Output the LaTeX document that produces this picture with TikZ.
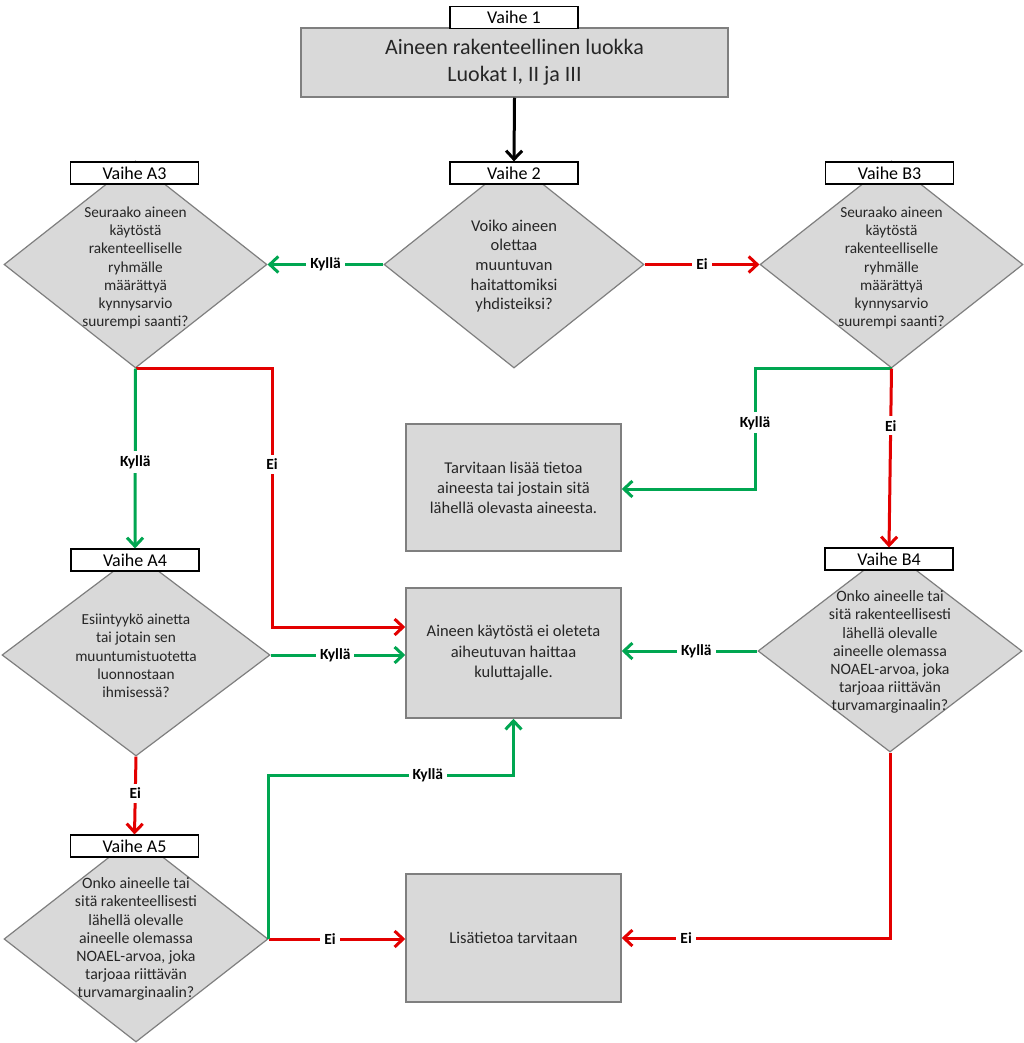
\documentclass[tikz,border=0pt]{standalone}
\usepackage{fontspec}
\setmainfont{Carlito}
\usetikzlibrary{arrows.meta,shapes.geometric}
\definecolor{grn}{HTML}{00A651}
\definecolor{rd}{HTML}{E30000}
\definecolor{boxgray}{HTML}{D9D9D9}
\definecolor{edgegray}{HTML}{7F7F7F}
\begin{document}
\begin{tikzpicture}[x=1pt,y=-1pt,
 stepbox/.style={draw=edgegray, line width=1.5pt, fill=boxgray, minimum width=215pt, minimum height=128pt, inner sep=0pt, align=center, text=black!85, font=\fontsize{16.5}{20}\selectfont},
 tag/.style={draw=black, line width=1.2pt, fill=white, minimum width=128pt, minimum height=22pt, inner sep=0pt, font=\fontsize{18}{18}\selectfont},
 dia/.style={diamond, draw=edgegray, line width=1.2pt, fill=boxgray, inner sep=0pt},
 diatext/.style={align=center, text=black!85, font=\fontsize{15.3}{18.3}\selectfont, inner sep=0pt},
 conn/.style={line width=3pt, -{Straight Barb[length=8.5pt,width=16pt]}},
 g/.style={conn, draw=grn},
 r/.style={conn, draw=rd},
 lbl/.style={fill=white, text=black, font=\bfseries\fontsize{15.5}{16}\selectfont, inner sep=4pt}
]
\useasboundingbox[fill=white] (0,0) rectangle (1024,1043);

% main box
\node[stepbox, minimum width=427pt, minimum height=69pt, font=\fontsize{22}{27}\selectfont] (main) at (514.5,62.5) {Aineen rakenteellinen luokka\\Luokat I, II ja III};
\node[tag] (t1) at (514,17.5) {Vaihe 1};

% diamonds
\node[dia, minimum width=260pt, minimum height=207pt] (v2) at (514,264.5) {};
\node[dia, minimum width=263pt, minimum height=207pt] (a3) at (135.5,264.5) {};
\node[dia, minimum width=263pt, minimum height=207pt] (b3) at (891.5,264.5) {};
\node[dia, minimum width=268pt, minimum height=202pt] (a4) at (136,655) {};
\node[dia, minimum width=264pt, minimum height=202pt] (b4) at (890,651) {};
\node[dia, minimum width=264pt, minimum height=206pt] (a5) at (136,939) {};

\node[diatext, font=\fontsize{16.5}{19.7}\selectfont] (v2t) at (514,266) {Voiko aineen\\olettaa\\muuntuvan\\haitattomiksi\\yhdisteiksi?};
\node[diatext] (a3t) at (135.5,268) {Seuraako aineen\\käytöstä\\rakenteelliselle\\ryhmälle\\määrättyä\\kynnysarvio\\suurempi saanti?};
\node[diatext] (b3t) at (891.5,268) {Seuraako aineen\\käytöstä\\rakenteelliselle\\ryhmälle\\määrättyä\\kynnysarvio\\suurempi saanti?};
\node[diatext] (a4t) at (136,656) {Esiintyykö ainetta\\tai jotain sen\\muuntumistuotetta\\luonnostaan\\ihmisessä?};
\node[diatext, font=\fontsize{15.8}{18.1}\selectfont] (b4t) at (890,652) {Onko aineelle tai\\sitä rakenteellisesti\\lähellä olevalle\\aineelle olemassa\\NOAEL-arvoa, joka\\tarjoaa riittävän\\turvamarginaalin?};
\node[diatext, font=\fontsize{15.8}{18.1}\selectfont] (a5t) at (136,939) {Onko aineelle tai\\sitä rakenteellisesti\\lähellä olevalle\\aineelle olemassa\\NOAEL-arvoa, joka\\tarjoaa riittävän\\turvamarginaalin?};

% tags
\node[tag] (t2) at (514,173) {Vaihe 2};
\node[tag] (ta3) at (134.5,173) {Vaihe A3};
\node[tag] (tb3) at (889.5,173) {Vaihe B3};
\node[tag] (ta4) at (135,560) {Vaihe A4};
\node[tag] (tb4) at (889,559) {Vaihe B4};
\node[tag] (ta5) at (134.5,846) {Vaihe A5};

% result boxes
\node[stepbox, minimum height=127pt] (bt) at (513.5,487.5) {Tarvitaan lisää tietoa\\aineesta tai jostain sitä\\lähellä olevasta aineesta.};
\node[stepbox, minimum height=130pt, font=\fontsize{16.5}{20.5}\selectfont] (bc) at (513.5,653) {Aineen käytöstä ei oleteta\\aiheutuvan haittaa\\kuluttajalle.};
\node[stepbox, minimum height=128pt] (bl) at (513.5,938) {Lisätietoa tarvitaan};

% helper coordinates
\coordinate (aei) at (272,627);
\coordinate (bk) at (755,489);
\coordinate (ak) at (268,775);

% connectors
\draw[conn, draw=black] (main.south) -- (t2.north);
\draw[g] (v2.west) -- node[lbl,pos=0.5]{Kyllä} (a3.east);
\draw[r] (v2.east) -- node[lbl]{Ei} (b3.west);

\draw[r] (a3.south) -- (a3.south -| aei) -- node[lbl,pos=0.37]{Ei} (aei) -- (aei -| bc.west);
\draw[g] (a3.south) -- node[lbl,pos=0.52]{Kyllä} (ta4.north);

\draw[g] (b3.south) -- (b3.south -| bk) -- node[lbl,pos=0.45]{Kyllä} (bk) -- (bk -| bt.east);
\draw[r] (b3.south) -- node[lbl,pos=0.32]{Ei} (tb4.north);

\draw[g] (a4.east) -- node[lbl,pos=0.48]{Kyllä} (a4.east -| bc.west);
\draw[r] (a4.south) -- node[lbl,pos=0.47]{Ei} (ta5.north);

\draw[g] (b4.west) -- node[lbl,pos=0.45]{Kyllä} (b4.west -| bc.east);
\draw[r] (b4.south) -- (b4.south |- bl.east) -- node[lbl,pos=0.76]{Ei} (bl.east);

\draw[r] (a5.east) -- node[lbl,pos=0.45]{Ei} (a5.east -| bl.west);
\draw[g] (a5.east) -- (a5.east |- ak) -- node[lbl,pos=0.65]{Kyllä} (ak -| bc.south) -- (bc.south);
\end{tikzpicture}
\end{document}
